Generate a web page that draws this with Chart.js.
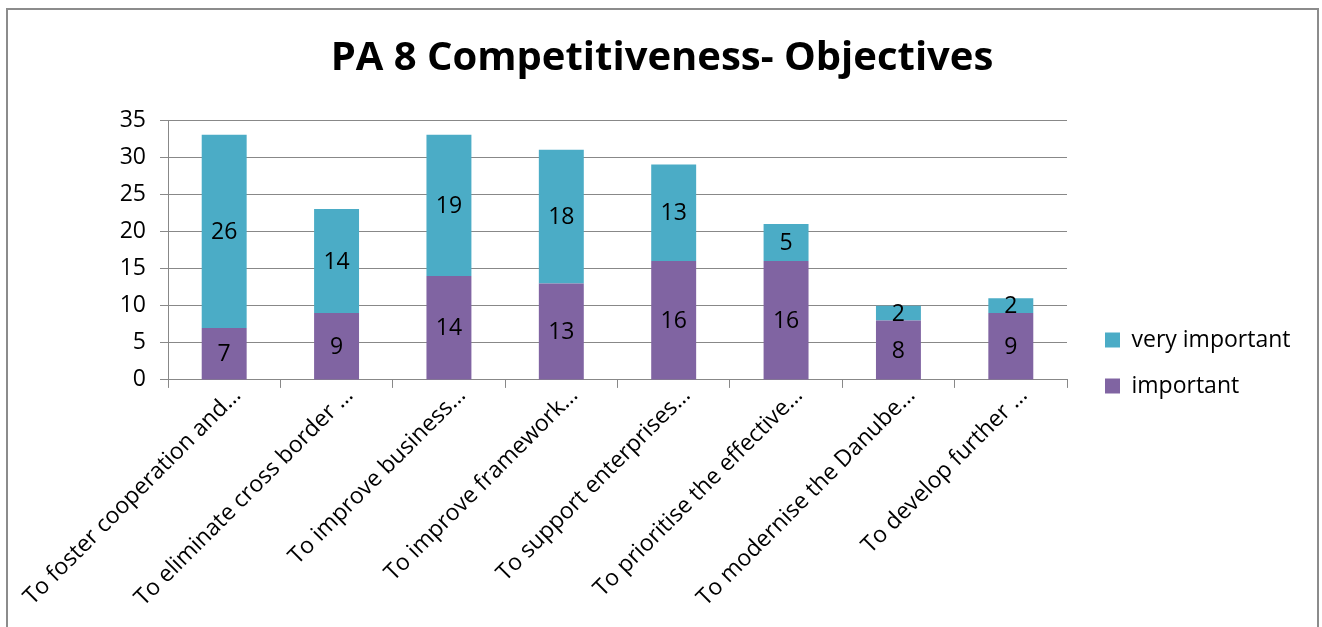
<!DOCTYPE html>
<html>
<head>
<meta charset="utf-8">
<script src="https://cdn.jsdelivr.net/npm/chart.js@4"></script>
<style>
html,body{margin:0;padding:0;background:#fff;}
canvas{display:block;}
</style>
</head>
<body>
<canvas id="c" width="1322" height="627"></canvas>
<script>
const categories = [
  "To foster cooperation and…",
  "To eliminate cross border …",
  "To improve business…",
  "To improve framework…",
  "To support enterprises…",
  "To prioritise the effective…",
  "To modernise the Danube…",
  "To develop further …"
];
const importantValues = [7, 9, 14, 13, 16, 16, 8, 9];
const veryImportantValues = [26, 14, 19, 18, 13, 5, 2, 2];
const yTicks = [0, 5, 10, 15, 20, 25, 30, 35];
const titleText = "PA 8 Competitiveness- Objectives";

const FONT = "'Open Sans', Lato, sans-serif";
const GRID = "#888888";

const frame = {
  id: 'frame',
  beforeDraw(chart) {
    const ctx = chart.ctx;
    ctx.save();
    ctx.fillStyle = '#fff';
    ctx.fillRect(0, 0, chart.width, chart.height);
    ctx.strokeStyle = '#8c8c8c';
    ctx.lineWidth = 2;
    ctx.strokeRect(7, 9, 1311, 640);
    ctx.restore();
  }
};

const valueLabels = {
  id: 'valueLabels',
  afterDatasetsDraw(chart) {
    const ctx = chart.ctx;
    ctx.save();
    ctx.font = "23px " + FONT;
    ctx.fillStyle = '#000';
    ctx.textAlign = 'center';
    ctx.textBaseline = 'middle';
    chart.data.datasets.forEach((ds, i) => {
      const meta = chart.getDatasetMeta(i);
      meta.data.forEach((el, j) => {
        const v = ds.data[j];
        const cy = (el.y + el.base) / 2;
        ctx.fillText(String(v), el.x, cy + 1);
      });
    });
    ctx.restore();
  }
};

new Chart(document.getElementById('c'), {
  type: 'bar',
  data: {
    labels: categories,
    datasets: [
      { label: 'important', data: importantValues, backgroundColor: '#8064A2', barPercentage: 1, categoryPercentage: 0.4 },
      { label: 'very important', data: veryImportantValues, backgroundColor: '#4BACC6', barPercentage: 1, categoryPercentage: 0.4 }
    ]
  },
  options: {
    responsive: false,
    animation: false,
    devicePixelRatio: 1,
    layout: { padding: { top: 12, left: 32, right: 30, bottom: 21 } },
    plugins: {
      title: {
        display: true,
        text: titleText,
        color: '#000',
        font: { family: FONT, size: 40, weight: 'bold' },
        padding: { top: 23, bottom: 37 }
      },
      legend: {
        position: 'right',
        reverse: true,
        title: { display: true, text: ' ', font: { size: 10 }, padding: { top: 96, bottom: 0 } },
        labels: {
          color: '#000',
          font: { family: FONT, size: 23 },
          boxWidth: 15,
          boxHeight: 15,
          padding: 23
        }
      },
      tooltip: { enabled: false }
    },
    scales: {
      x: {
        stacked: true,
        grid: { display: true, drawOnChartArea: false, drawTicks: true, tickLength: 8, color: GRID },
        border: { display: true, color: GRID, width: 1 },
        ticks: { color: '#000', font: { family: FONT, size: 23 }, minRotation: 45, maxRotation: 45, padding: -6, labelOffset: 13, autoSkip: false }
      },
      y: {
        stacked: true,
        min: 0,
        max: 35,
        afterBuildTicks(axis) { axis.ticks = yTicks.map(v => ({ value: v })); },
        afterFit(s) { s.width = 136; },
        grid: { color: GRID, drawTicks: true, tickLength: 8 },
        border: { display: true, color: GRID, width: 1 },
        ticks: { color: '#000', font: { family: FONT, size: 23 }, padding: 14 }
      },
      gap: {
        type: 'linear',
        position: 'right',
        display: true,
        grid: { display: false, drawTicks: false },
        border: { display: false },
        ticks: { display: false },
        afterFit(s) { s.width = 15; }
      }
    }
  },
  plugins: [frame, valueLabels]
});
</script>
</body>
</html>
